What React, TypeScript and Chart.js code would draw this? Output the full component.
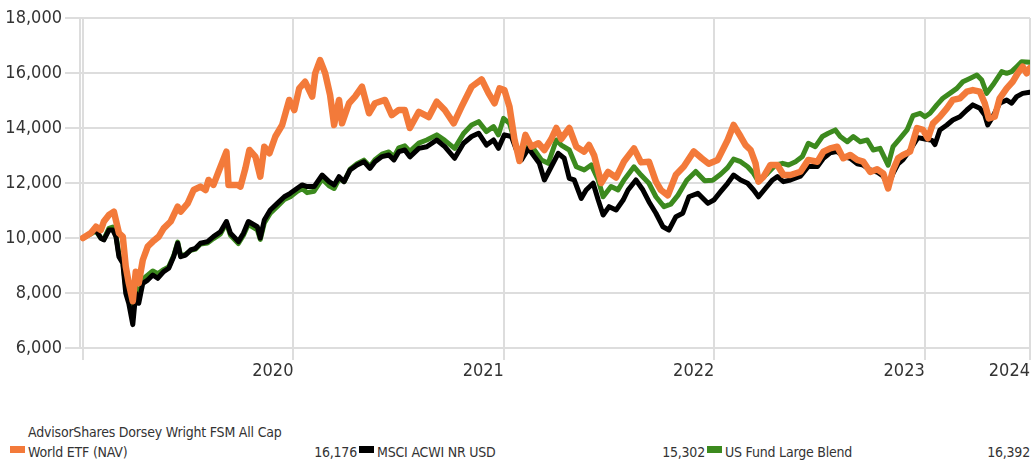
import React, { useEffect, useRef } from "react";
import { Chart, registerables } from "chart.js";

Chart.register(...registerables);

// Growth of 10,000 — x is months since the start of 2020
const seriesNames = [
  "AdvisorShares Dorsey Wright FSM All Cap World ETF (NAV)",
  "MSCI ACWI NR USD",
  "US Fund Large Blend",
];
const seriesColors = ["#F37A3A", "#000000", "#3C8A1E"];

const tickMonths = [0, 12, 24, 36, 48, 54];
const tickLabels = ["", "2020", "2021", "2022", "2023", "2024"];

const fundSeries: [number, number][] = [
  [0, 10000], [0.45, 10180], [0.74, 10410], [1.02, 10290], [1.19, 10600], [1.48, 10840], [1.76, 10960], [2.05, 10180],
  [2.27, 10050], [2.44, 8960], [2.61, 8360], [2.84, 7700], [3.01, 8775], [3.18, 8360], [3.41, 9200], [3.69, 9690],
  [3.98, 9870], [4.32, 10050], [4.6, 10350], [5.0, 10600], [5.4, 11140], [5.57, 10960], [5.97, 11260], [6.31, 11745],
  [6.7, 11870], [6.99, 11745], [7.16, 12110], [7.44, 11930], [7.73, 12410], [8.18, 13140], [8.3, 11930], [8.81, 11930],
  [8.98, 11870], [9.26, 12530], [9.49, 13200], [9.83, 12960], [10.11, 12230], [10.34, 13320], [10.63, 13080], [10.97, 13690],
  [11.36, 14110], [11.76, 15020], [12.05, 14655], [12.33, 15440], [12.67, 15680], [13.07, 15140], [13.24, 15990], [13.52, 16470],
  [13.81, 15990], [14.09, 15200], [14.32, 14110], [14.6, 15020], [14.77, 14170], [15.17, 14900], [15.51, 15140], [15.91, 15500],
  [16.31, 14535], [16.65, 14900], [17.22, 15020], [17.61, 14470], [18.01, 14655], [18.35, 14655], [18.64, 14000], [19.15, 14590],
  [19.72, 14400], [20.17, 14955], [20.63, 14655], [21.14, 14170], [21.59, 14775], [22.16, 15500], [22.73, 15770], [23.13, 15260],
  [23.47, 14900], [23.75, 15440], [24.03, 15380], [24.32, 14775], [24.6, 13600], [24.89, 12800], [25.23, 13750], [25.57, 13320],
  [25.97, 13445], [26.31, 13200], [26.7, 13600], [26.99, 14000], [27.27, 13600], [27.73, 14000], [28.13, 13320], [28.58, 13140],
  [28.86, 13380], [29.15, 13000], [29.55, 12000], [29.94, 12400], [30.4, 12200], [30.85, 12780], [31.42, 13260], [31.82, 12750],
  [32.27, 12775], [32.67, 12050], [32.95, 11745], [33.35, 11550], [33.81, 12300], [34.26, 12600], [34.83, 13150], [35.28, 12900],
  [35.68, 12700], [36.19, 12840], [36.76, 13565], [37.1, 14110], [37.5, 13690], [37.78, 13380], [38.07, 13200], [38.35, 12715],
  [38.52, 12050], [38.81, 12230], [39.2, 12655], [39.6, 12655], [39.94, 12290], [40.34, 12290], [40.91, 12410], [41.36, 12840],
  [41.88, 12775], [42.22, 13140], [42.61, 13260], [43.01, 13320], [43.35, 12900], [43.75, 13020], [44.15, 12840], [44.49, 12775],
  [44.89, 12400], [45.28, 12500], [45.63, 12350], [45.91, 11800], [46.19, 12475], [46.48, 12900], [46.76, 13020], [47.16, 13140],
  [47.56, 14000], [47.9, 13930], [48.18, 13625], [48.47, 14170], [48.86, 14410], [49.26, 14715], [49.6, 15020], [50.0, 15080],
  [50.4, 15320], [50.74, 15380], [51.14, 15320], [51.42, 14900], [51.65, 14350], [51.99, 14410], [52.27, 15080], [52.67, 15440],
  [53.01, 15680], [53.3, 15990], [53.58, 16230], [53.81, 15990], [53.98, 16176],
];

const acwiSeries: [number, number][] = [
  [0, 10000], [0.45, 10180], [0.74, 10290], [1.02, 9990], [1.19, 9930], [1.48, 10290], [1.7, 10290], [1.88, 10050],
  [2.05, 9320], [2.27, 9080], [2.44, 7990], [2.61, 7625], [2.84, 6850], [3.01, 7990], [3.18, 7625], [3.41, 8350],
  [3.69, 8470], [3.98, 8655], [4.26, 8535], [4.6, 8775], [4.89, 8900], [5.17, 9320], [5.4, 9810], [5.57, 9320],
  [5.85, 9380], [6.14, 9565], [6.42, 9625], [6.7, 9810], [7.1, 9870], [7.44, 10050], [7.84, 10230], [8.18, 10600],
  [8.41, 10170], [8.86, 9870], [9.15, 10170], [9.43, 10600], [9.94, 10410], [10.11, 10000], [10.34, 10655], [10.68, 11020],
  [11.08, 11260], [11.48, 11500], [11.82, 11625], [12.22, 11810], [12.5, 11930], [12.78, 11870], [13.18, 11870], [13.64, 12290],
  [14.03, 12050], [14.32, 11930], [14.6, 12230], [14.89, 12050], [15.23, 12475], [15.63, 12655], [16.02, 12775], [16.36, 12530],
  [16.65, 12775], [17.05, 12960], [17.44, 13020], [17.73, 12840], [18.01, 13140], [18.35, 13200], [18.64, 12950], [19.15, 13260],
  [19.6, 13320], [20.17, 13565], [20.63, 13320], [21.19, 12900], [21.7, 13445], [22.16, 13690], [22.56, 13810], [23.01, 13380],
  [23.41, 13565], [23.69, 13260], [24.03, 13750], [24.43, 13690], [24.72, 13200], [25.0, 12840], [25.4, 13260], [25.74, 12960],
  [26.02, 12715], [26.31, 12110], [26.7, 12590], [27.1, 13080], [27.44, 12900], [27.73, 12170], [28.01, 12110], [28.41, 11440],
  [28.69, 11745], [29.09, 11990], [29.38, 11380], [29.66, 10835], [30.0, 11140], [30.4, 11020], [30.8, 11380], [31.08, 11745],
  [31.53, 12110], [31.93, 11745], [32.27, 11320], [32.67, 10900], [33.07, 10410], [33.41, 10290], [33.81, 10775], [34.2, 10900],
  [34.55, 11500], [35.06, 11625], [35.63, 11260], [35.97, 11380], [36.36, 11685], [36.76, 11990], [37.1, 12290], [37.5, 12110],
  [37.9, 11990], [38.24, 11745], [38.52, 11500], [38.92, 11810], [39.32, 12110], [39.6, 12230], [39.94, 12050], [40.34, 12110],
  [40.91, 12250], [41.36, 12600], [41.88, 12600], [42.22, 12900], [42.61, 13100], [43.01, 13150], [43.35, 12960], [43.75, 12900],
  [44.15, 12700], [44.49, 12650], [44.89, 12475], [45.28, 12400], [45.63, 12250], [45.91, 11900], [46.19, 12350], [46.48, 12700],
  [46.76, 12850], [47.16, 13200], [47.61, 13650], [48.01, 13600], [48.41, 13550], [48.58, 13400], [48.86, 13930], [49.26, 14110],
  [49.6, 14290], [50.0, 14410], [50.4, 14655], [50.74, 14840], [51.14, 14715], [51.42, 14470], [51.59, 14110], [51.88, 14410],
  [52.27, 14900], [52.67, 15020], [52.95, 14900], [53.24, 15140], [53.58, 15260], [53.98, 15302],
];

const blendSeries: [number, number][] = [
  [0, 10000], [0.45, 10150], [0.74, 10250], [1.02, 10000], [1.19, 9950], [1.48, 10350], [1.7, 10400], [1.88, 10100],
  [2.05, 9400], [2.27, 9150], [2.44, 8200], [2.61, 7900], [2.84, 7500], [3.01, 8200], [3.18, 7900], [3.41, 8500],
  [3.69, 8650], [3.98, 8800], [4.26, 8700], [4.6, 8850], [4.89, 8950], [5.17, 9350], [5.4, 9850], [5.57, 9350],
  [5.85, 9400], [6.14, 9550], [6.42, 9600], [6.7, 9780], [7.1, 9820], [7.44, 9980], [7.84, 10150], [8.18, 10550],
  [8.41, 10100], [8.86, 9800], [9.15, 10100], [9.43, 10500], [9.94, 10300], [10.11, 9950], [10.34, 10550], [10.68, 10900],
  [11.08, 11150], [11.48, 11400], [11.82, 11500], [12.22, 11700], [12.5, 11800], [12.78, 11650], [13.18, 11700], [13.64, 12150],
  [14.03, 11900], [14.32, 11800], [14.6, 12150], [14.89, 12050], [15.23, 12500], [15.63, 12700], [16.02, 12830], [16.36, 12600],
  [16.65, 12850], [17.05, 13050], [17.44, 13130], [17.73, 12950], [18.01, 13280], [18.35, 13350], [18.64, 13150], [19.15, 13450],
  [19.6, 13565], [20.17, 13750], [20.63, 13550], [21.19, 13260], [21.7, 13800], [22.16, 14110], [22.56, 14230], [23.01, 13870],
  [23.41, 14050], [23.69, 13750], [23.98, 14350], [24.32, 14170], [24.6, 13565], [24.89, 13020], [25.4, 13320], [25.74, 13200],
  [26.14, 12840], [26.53, 12715], [26.99, 13565], [27.27, 13380], [27.73, 13200], [28.13, 12590], [28.58, 12475], [28.98, 12655],
  [29.38, 12110], [29.66, 11500], [30.11, 11870], [30.51, 11750], [30.85, 12110], [31.42, 12590], [31.82, 12290], [32.27, 11990],
  [32.67, 11500], [33.13, 11140], [33.52, 11230], [33.92, 11550], [34.43, 12100], [34.94, 12420], [35.45, 12080], [35.91, 12100],
  [36.36, 12320], [36.76, 12560], [37.1, 12870], [37.5, 12775], [37.9, 12590], [38.24, 12350], [38.52, 12050], [39.03, 12350],
  [39.49, 12655], [39.89, 12715], [40.23, 12655], [40.63, 12775], [41.02, 12960], [41.36, 13445], [41.76, 13320], [42.16, 13690],
  [42.5, 13810], [42.9, 13930], [43.18, 13690], [43.58, 13500], [43.92, 13690], [44.32, 13500], [44.72, 13565], [45.06, 13200],
  [45.45, 13260], [45.91, 12650], [46.19, 13320], [46.59, 13620], [46.99, 13930], [47.33, 14450], [47.73, 14535], [48.01, 14410],
  [48.3, 14535], [48.69, 14840], [49.03, 15080], [49.43, 15260], [49.83, 15440], [50.17, 15680], [50.57, 15800], [50.97, 15925],
  [51.25, 15745], [51.53, 15260], [51.88, 15560], [52.39, 16050], [52.67, 15990], [52.95, 16050], [53.24, 16230], [53.52, 16410],
  [53.98, 16392],
];

const allSeries = [fundSeries, acwiSeries, blendSeries];
const lineWidths = [6.5, 5, 5];

const FONT = '"Liberation Sans Narrow", "Arial Narrow", "DejaVu Sans Condensed", sans-serif';
const GRID = "#dddddd";
const fmt = (v: number) => v.toLocaleString("en-US", { maximumFractionDigits: 0 });

export default function App() {
  const ref = useRef<HTMLCanvasElement | null>(null);

  useEffect(() => {
    if (!ref.current) return;
    const chart = new Chart(ref.current, {
      type: "line",
      data: {
        datasets: allSeries.map((s, i) => ({
          label: seriesNames[i],
          data: s.map(([x, y]) => ({ x, y })),
          borderColor: seriesColors[i],
          backgroundColor: seriesColors[i],
          borderWidth: lineWidths[i],
          pointRadius: 0,
          tension: 0,
          borderJoinStyle: "round" as const,
          borderCapStyle: "round" as const,
          fill: false,
        })),
      },
      options: {
        animation: false,
        responsive: false,
        maintainAspectRatio: false,
        layout: { padding: { left: 0, right: 5, top: 18, bottom: 5 } },
        plugins: { legend: { display: false }, tooltip: { enabled: false } },
        scales: {
          x: {
            type: "linear",
            min: -0.17,
            max: 54,
            afterBuildTicks: (scale: any) => {
              scale.ticks = tickMonths.map((v) => ({ value: v }));
            },
            afterFit: (scale: any) => {
              scale.height = 32;
            },
            grid: { color: GRID, lineWidth: 2, tickLength: 12, drawTicks: true },
            border: { display: true, color: GRID, width: 2 },
            ticks: {
              autoSkip: false,
              maxRotation: 0,
              align: "end",
              padding: 1,
              color: "#333333",
              font: { family: FONT, size: 18 },
              callback: (v: any) => {
                const idx = tickMonths.indexOf(Number(v));
                return idx >= 0 ? tickLabels[idx] : "";
              },
            },
          },
          y: {
            type: "linear",
            min: 6000,
            max: 18000,
            afterFit: (scale: any) => {
              scale.width = 80;
            },
            grid: { color: GRID, lineWidth: 2, tickLength: 15 },
            border: { display: true, color: GRID, width: 2 },
            ticks: {
              stepSize: 2000,
              padding: 3,
              color: "#333333",
              font: { family: FONT, size: 18 },
              callback: (v: any) => fmt(Number(v)),
            },
          },
        },
      },
    });
    return () => chart.destroy();
  }, []);

  return (
    <div style={{ position: "absolute", left: 0, top: 0, width: 1035, height: 464, background: "#fff" }}>
      <canvas ref={ref} width={1035} height={385} style={{ display: "block", width: 1035, height: 385 }} />
      <div
        style={{
          position: "absolute",
          left: 10,
          top: 420,
          width: 1022,
          display: "grid",
          gridTemplateColumns: "349px 348px 1fr",
          fontFamily: FONT,
          fontSize: 14,
          letterSpacing: "-0.2px",
          lineHeight: "20px",
          color: "#333",
        }}
      >
        {seriesNames.map((name, i) => {
          const s = allSeries[i];
          const last = s[s.length - 1][1];
          return (
            <div key={name} style={{ display: "flex", alignItems: "flex-end", height: 42 }}>
              <span
                style={{
                  display: "inline-block",
                  width: 15,
                  height: 7,
                  background: seriesColors[i],
                  marginBottom: 9,
                  marginRight: 3,
                  flex: "0 0 auto",
                }}
              />
              <span style={{ maxWidth: 262, flex: "0 1 auto" }}>{name}</span>
              <span style={{ marginLeft: "auto", paddingRight: 2 }}>{fmt(last)}</span>
            </div>
          );
        })}
      </div>
    </div>
  );
}
